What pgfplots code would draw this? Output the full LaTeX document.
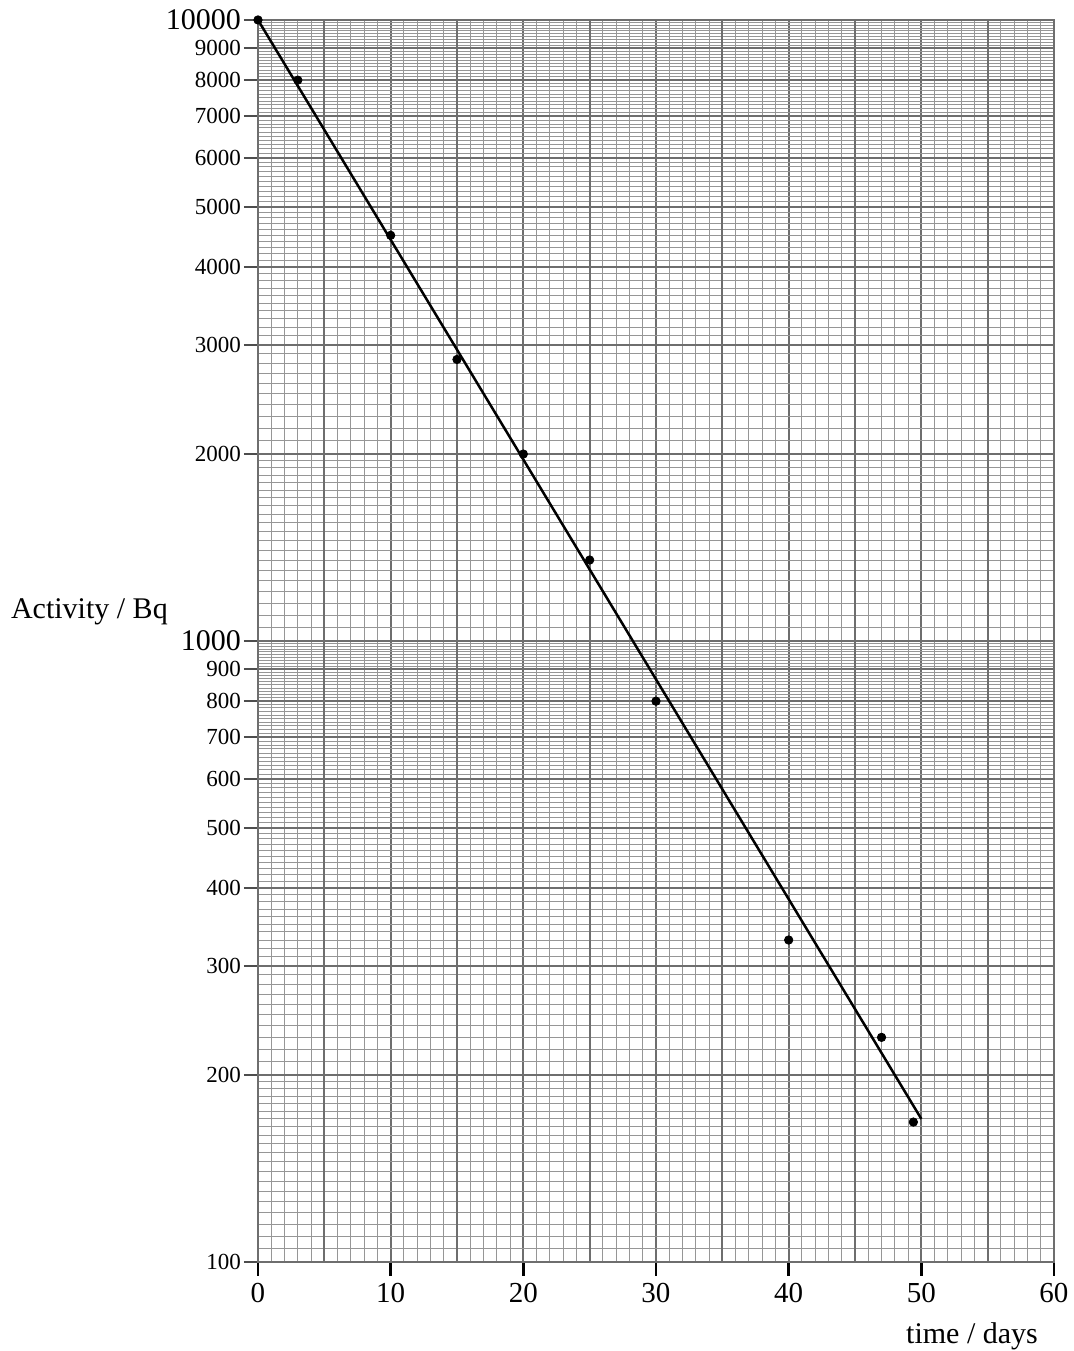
\documentclass[border=0pt]{standalone}
\usepackage{pgfplots}
\pgfplotsset{compat=1.18}
\usepackage{fontspec}
\setmainfont{Liberation Serif}
\definecolor{gmin}{RGB}{150,150,150}
\definecolor{gmaj}{RGB}{110,110,110}
\newcommand{\biglab}{\fontsize{15}{15}\selectfont}
\begin{document}
\begin{tikzpicture}
\begin{axis}[
  scale only axis, width=398pt, height=621pt,
  ymode=log, xmin=0, xmax=60, ymin=100, ymax=10000,
  axis line style={gmaj, line width=1.1pt},
  xtick={0,10,...,60}, xticklabels={0,10,20,30,40,50,60},
  minor xtick={0,1,...,60},
  extra x ticks={5,15,...,55}, extra x tick labels={},
  extra x tick style={major tick length=0pt, grid=major},
  ytick={100,200,300,400,500,600,700,800,900,1000,2000,3000,4000,5000,6000,7000,8000,9000,10000},
  yticklabels={100,200,300,400,500,600,700,800,900,{\biglab 1000},2000,3000,4000,5000,6000,7000,8000,9000,{\biglab 10000}},
  minor ytick={105,110,...,195,210,220,...,490,510,520,...,990,1050,1100,...,1950,2100,2200,...,4900,5100,5200,...,9900},
  grid=both,
  major grid style={gmaj, line width=1.1pt},
  minor grid style={gmin, line width=0.5pt},
  tick align=outside, tick pos=left,
  minor tick length=0pt,
  major tick length=7pt,
  xtick style={black, line width=1.2pt},
  ytick style={gmaj!70!black, line width=0.9pt},
  x tick label style={font=\fontsize{14.5}{15}\selectfont},
  y tick label style={font=\fontsize{11.5}{12}\selectfont, xshift=2pt},
]
\addplot[black, line width=1.25pt] coordinates {(0,10000) (50,170)};
\addplot[only marks, mark=*, mark size=2.1pt, black] coordinates {
(0,10000) (3,8000) (10,4500) (15,2840) (20,2000) (25,1350) (30,800) (40,330) (47,230) (49.4,168)};
\coordinate (O) at (rel axis cs:0,0);
\coordinate (T) at (rel axis cs:1,1);
\end{axis}
\node[anchor=west, font=\fontsize{15}{16}\selectfont] at ([xshift=-127pt, yshift=325pt]O) {Activity / Bq};
\node[font=\fontsize{15}{16}\selectfont] at ([xshift=357pt, yshift=-37pt]O) {time / days};
\pgfresetboundingbox
\path ([xshift=-129pt, yshift=-44.5pt]O) rectangle ([xshift=10pt, yshift=10pt]T);
\end{tikzpicture}
\end{document}
